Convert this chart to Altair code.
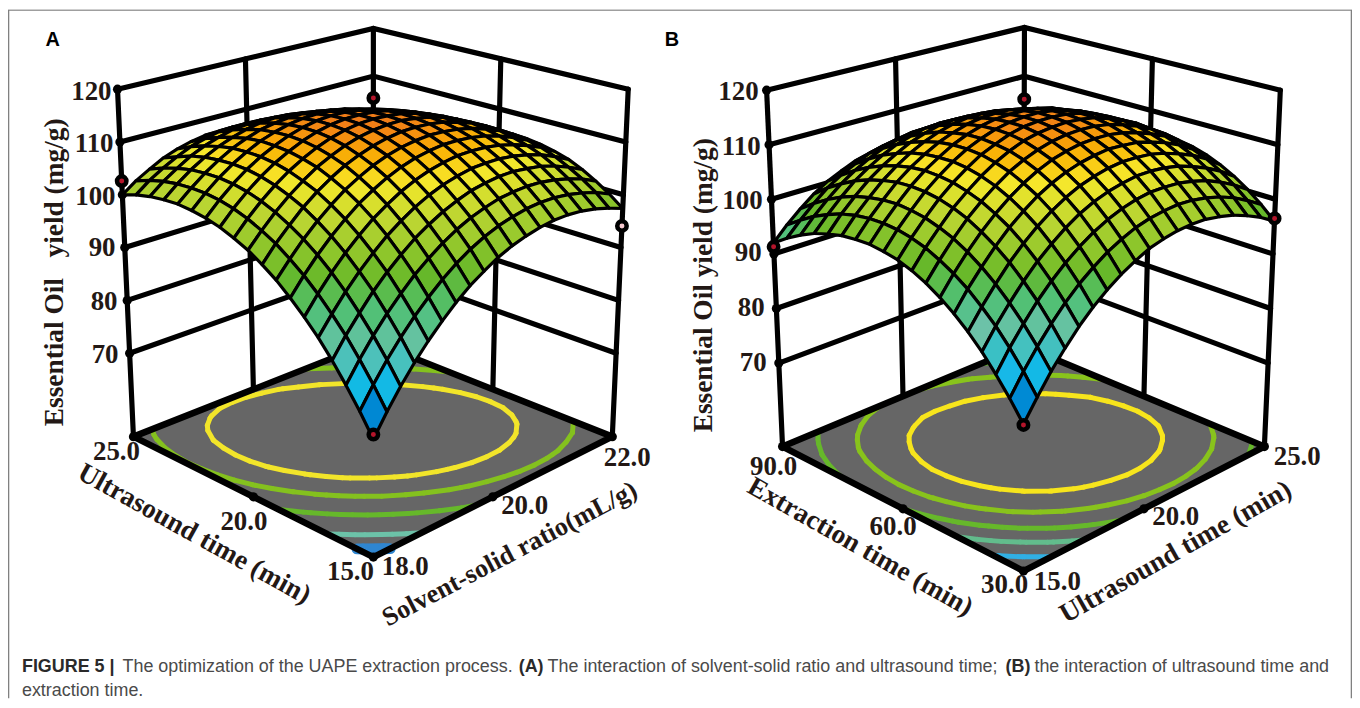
import altair as alt

# Response surface heights; rows run along the left floor axis,
# columns along the right floor axis, front corner first.
yield_a = [
 [74.6,78.3,81.7,84.8,87.6,90.1,92.4,94.4,96.0,97.5,98.6,99.4,100.0,100.3,100.3,100.0,99.4,98.5,97.4],
 [78.4,82.0,85.3,88.3,91.0,93.4,95.6,97.5,99.1,100.4,101.4,102.1,102.6,102.8,102.7,102.3,101.6,100.7,99.4],
 [81.9,85.4,88.6,91.5,94.1,96.5,98.5,100.3,101.8,103.0,103.9,104.6,104.9,105.0,104.8,104.3,103.5,102.5,101.1],
 [85.2,88.6,91.6,94.5,97.0,99.2,101.2,102.8,104.2,105.3,106.2,106.7,107.0,107.0,106.6,106.1,105.2,104.0,102.6],
 [88.2,91.4,94.4,97.1,99.5,101.7,103.5,105.1,106.4,107.4,108.1,108.6,108.7,108.6,108.2,107.5,106.6,105.3,103.8],
 [90.8,94.0,96.9,99.5,101.8,103.9,105.6,107.1,108.3,109.2,109.8,110.2,110.2,110.0,109.5,108.7,107.6,106.3,104.6],
 [93.2,96.3,99.1,101.6,103.8,105.8,107.4,108.8,109.9,110.7,111.2,111.5,111.4,111.1,110.5,109.6,108.4,107.0,105.2],
 [95.4,98.3,101.0,103.4,105.5,107.4,108.9,110.2,111.2,111.9,112.3,112.5,112.3,111.9,111.2,110.2,109.0,107.4,105.6],
 [97.2,100.1,102.6,105.0,107.0,108.7,110.2,111.3,112.2,112.8,113.2,113.2,113.0,112.5,111.6,110.6,109.2,107.5,105.6],
 [98.8,101.5,104.0,106.2,108.1,109.8,111.1,112.2,113.0,113.5,113.7,113.7,113.3,112.7,111.8,110.6,109.1,107.4,105.4],
 [100.0,102.7,105.1,107.2,109.0,110.5,111.8,112.8,113.5,113.9,114.0,113.8,113.4,112.7,111.7,110.4,108.8,107.0,104.8],
 [101.0,103.6,105.9,107.9,109.6,111.0,112.2,113.1,113.7,114.0,114.0,113.7,113.2,112.4,111.3,109.9,108.2,106.3,104.0],
 [101.7,104.2,106.4,108.3,109.9,111.2,112.3,113.1,113.6,113.8,113.7,113.3,112.7,111.8,110.6,109.1,107.3,105.3,102.9],
 [102.1,104.5,106.6,108.4,109.9,111.2,112.1,112.8,113.2,113.3,113.1,112.7,111.9,110.9,109.6,108.0,106.1,104.0,101.5],
 [102.3,104.5,106.5,108.2,109.7,110.8,111.7,112.2,112.5,112.5,112.2,111.7,110.9,109.7,108.3,106.6,104.7,102.4,99.9],
 [102.1,104.3,106.2,107.8,109.1,110.1,110.9,111.4,111.6,111.5,111.1,110.4,109.5,108.3,106.8,105.0,102.9,100.6,97.9],
 [101.7,103.8,105.5,107.1,108.3,109.2,109.9,110.2,110.3,110.1,109.7,108.9,107.9,106.6,104.9,103.1,100.9,98.4,95.7],
 [101.0,103.0,104.6,106.0,107.2,108.0,108.6,108.8,108.8,108.5,108.0,107.1,106.0,104.5,102.8,100.8,98.6,96.0,93.2],
 [100.0,101.9,103.4,104.8,105.8,106.5,107.0,107.1,107.0,106.6,106.0,105.0,103.8,102.3,100.4,98.4,96.0,93.3,90.4],
]
yield_b = [
 [79.0,82.5,85.8,88.7,91.4,93.7,95.7,97.4,98.8,100.0,100.7,101.2,101.4,101.3,100.8,100.1,99.0,97.7,96.0],
 [82.3,85.8,89.0,91.9,94.5,96.8,98.7,100.4,101.7,102.8,103.5,103.9,104.1,103.9,103.4,102.6,101.5,100.0,98.3],
 [85.3,88.8,91.9,94.8,97.3,99.5,101.4,103.0,104.3,105.3,106.0,106.4,106.4,106.2,105.6,104.8,103.6,102.1,100.3],
 [88.1,91.5,94.5,97.3,99.8,101.9,103.8,105.4,106.6,107.5,108.1,108.5,108.5,108.2,107.6,106.6,105.4,103.9,102.0],
 [90.5,93.8,96.8,99.6,102.0,104.1,105.9,107.4,108.6,109.4,110.0,110.3,110.2,109.9,109.2,108.2,107.0,105.4,103.4],
 [92.6,95.9,98.8,101.5,103.9,105.9,107.7,109.1,110.2,111.0,111.5,111.8,111.6,111.3,110.5,109.5,108.2,106.5,104.5],
 [94.4,97.6,100.5,103.1,105.4,107.4,109.1,110.5,111.6,112.3,112.8,112.9,112.8,112.3,111.5,110.4,109.1,107.3,105.3],
 [95.9,99.0,101.9,104.5,106.7,108.6,110.3,111.6,112.6,113.3,113.7,113.8,113.6,113.1,112.2,111.1,109.7,107.9,105.8],
 [97.1,100.2,102.9,105.5,107.6,109.5,111.1,112.4,113.4,114.0,114.3,114.4,114.1,113.6,112.6,111.4,110.0,108.1,106.0],
 [98.0,101.0,103.7,106.2,108.3,110.1,111.7,112.8,113.8,114.4,114.6,114.6,114.3,113.7,112.7,111.4,109.9,108.0,105.8],
 [98.5,101.5,104.1,106.6,108.6,110.4,111.9,113.0,113.9,114.4,114.6,114.6,114.2,113.5,112.5,111.2,109.6,107.6,105.4],
 [98.8,101.7,104.3,106.7,108.7,110.3,111.8,112.9,113.7,114.2,114.3,114.2,113.8,113.1,112.0,110.6,109.0,106.9,104.6],
 [98.7,101.6,104.1,106.5,108.4,110.0,111.4,112.4,113.2,113.6,113.7,113.6,113.0,112.3,111.1,109.7,108.0,105.9,103.5],
 [98.4,101.2,103.6,105.9,107.8,109.4,110.7,111.7,112.4,112.8,112.8,112.6,112.0,111.2,110.0,108.5,106.8,104.6,102.2],
 [97.7,100.5,102.9,105.1,106.9,108.4,109.7,110.6,111.3,111.6,111.5,111.3,110.7,109.8,108.5,107.0,105.2,103.0,100.5],
 [96.8,99.4,101.8,104.0,105.7,107.2,108.4,109.2,109.9,110.1,110.0,109.7,109.0,108.1,106.8,105.1,103.3,101.1,98.5],
 [95.5,98.1,100.4,102.5,104.2,105.6,106.8,107.6,108.2,108.3,108.1,107.8,107.0,106.1,104.7,103.0,101.2,98.8,96.2],
 [93.9,96.4,98.7,100.8,102.4,103.7,104.9,105.6,106.1,106.2,106.0,105.6,104.8,103.8,102.3,100.6,98.7,96.3,93.6],
 [92.0,94.5,96.7,98.7,100.3,101.5,102.6,103.3,103.8,103.8,103.5,103.1,102.2,101.2,99.7,97.8,95.9,93.4,90.7],
]
z_ticks = [70, 80, 90, 100, 110, 120]
# design points: left-axis fraction, right-axis fraction, height, centre colour
points_a = [(1, 0, 102.6, "#b5152b"), (0, 1, 94.1, "#f6c9cf"), (1, 1, 105.4, "#b5152b"), (0, 0, 75.4, "#b5152b")]
points_b = [(1, 0, 91.3, "#b5152b"), (0, 1, 96.5, "#b5152b"), (1, 1, 105.3, "#b5152b"), (0, 0, 78.9, "#b5152b")]
colour_range = ["#2050a8", "#22b6ee", "#6cc2a8", "#66b82a", "#b8d432", "#f6e82c", "#f07a18"]
colour_domain_a = [75, 81, 87, 96, 103, 108, 114]
colour_domain_b = [79, 85, 91, 98, 104, 109, 115]
contours_a = [(107.8, "#f2e52a", 5), (102.5, "#84c11e", 5), (95.6, "#66b82a", 5), (86.6, "#6cc2a8", 5), (79.2, "#2f86d0", 11)]
contours_b = [(109, "#f7e51c", 5), (103.5, "#88c31c", 5), (98, "#66b82a", 5), (92.5, "#62bc8c", 5), (86, "#30b0e4", 5)]

# Picture geometry of the two 3-D boxes (front, left, right, back corners).
box_a = dict(floor=[(375, 558), (134, 437), (615, 437), (375, 342)],
             top=[(375, 176), (118, 88), (631, 88), (375, 27)], z0=54.2)
box_b = dict(floor=[(1028, 572), (786, 447), (1270, 447), (1028, 346)],
             top=[(1028, 176), (770, 89), (1286, 89), (1029, 26)], z0=54.7)
OFF = 8


def project(box, u, v, z):
    def bil(q):
        f, l, r, b = q
        return [
            f[k] * (1 - u) * (1 - v) + l[k] * u * (1 - v) + r[k] * (1 - u) * v + b[k] * u * v
            for k in (0, 1)
        ]
    lo, hi = bil(box["floor"]), bil(box["top"])
    w = (z - box["z0"]) / (120 - box["z0"])
    return [lo[0] + (hi[0] - lo[0]) * w - OFF, lo[1] + (hi[1] - lo[1]) * w - OFF]


def line(pts, **props):
    return {"type": "Feature", "properties": props, "geometry": {"type": "LineString", "coordinates": pts}}


def poly(pts, **props):
    return {"type": "Feature", "properties": props,
            "geometry": {"type": "Polygon", "coordinates": [pts + [pts[0]]]}}


PROJ = dict(type="identity", scale=1, translate=[0, 0])


def geo(features, **mark):
    return alt.Chart(alt.Data(values=features)).mark_geoshape(**mark).project(**PROJ)


def frame_lines(box):
    z0 = box["z0"]
    fs = []
    for z in z_ticks:
        fs.append(line([project(box, 1, 0, z), project(box, 1, 1, z), project(box, 0, 1, z)]))
    for u, v in [(1, 0), (1, .5), (1, 1), (.5, 1), (0, 1)]:
        fs.append(line([project(box, u, v, z0), project(box, u, v, 120)]))
    return fs


def floor_edges(box):
    z = box["z0"]
    return [line([project(box, 1, 1, z), project(box, 1, 0, z), project(box, 0, 0, z),
                  project(box, 0, 1, z), project(box, 1, 1, z)])]


def contour_segments(box, table, level, colour):
    n = len(table) - 1
    fs = []
    for i in range(n):
        for j in range(n):
            corners = [(i, j), (i + 1, j), (i + 1, j + 1), (i, j + 1)]
            cross = []
            for k in range(4):
                a, b = corners[k], corners[(k + 1) % 4]
                za, zb = table[a[0]][a[1]], table[b[0]][b[1]]
                if (za >= level) != (zb >= level):
                    f = (level - za) / (zb - za)
                    cross.append(((a[0] + (b[0] - a[0]) * f) / n, (a[1] + (b[1] - a[1]) * f) / n))
            if len(cross) >= 2:
                fs.append(line([project(box, *cross[0], box["z0"]), project(box, *cross[1], box["z0"])],
                               colour=colour))
    return fs


def surface_cells(box, table):
    n = len(table) - 1
    cells = []
    for i in range(n):
        for j in range(n):
            q = [(i, j), (i + 1, j), (i + 1, j + 1), (i, j + 1)]
            z = sum(table[a][b] for a, b in q) / 4
            pts = [project(box, a / n, b / n, table[a][b]) for a, b in q]
            cells.append((i + j, poly(pts, z=z)))
    cells.sort(key=lambda c: -c[0])
    return [c[1] for c in cells]


def tick_dots(box):
    rows = []
    for z in z_ticks:
        x, y = project(box, 1, 0, z)
        rows.append(dict(x=x, y=y))
    for u, v in [(1, 0), (0, 0), (0, 1), (.5, 0), (0, .5)]:
        x, y = project(box, u, v, box["z0"])
        rows.append(dict(x=x, y=y))
    return rows


def panel_layers(box, table, domain, contours, points):
    z0 = box["z0"]
    layers = [
        geo(frame_lines(box), filled=False, stroke="black", strokeWidth=5.2, strokeCap="round"),
        geo([poly([project(box, 0, 0, z0), project(box, 1, 0, z0), project(box, 1, 1, z0), project(box, 0, 1, z0)])],
            fill="#666666", stroke=None),
    ]
    for level, colour, width in contours:
        layers.append(geo(contour_segments(box, table, level, colour), filled=False, stroke=colour,
                          strokeWidth=width, strokeCap="round"))
    layers.append(geo(floor_edges(box), filled=False, stroke="black", strokeWidth=6.5, strokeJoin="round"))
    layers.append(alt.Chart(alt.Data(values=tick_dots(box))).mark_circle(color="black", size=85, opacity=1)
                  .encode(longitude="x:Q", latitude="y:Q").project(**PROJ))
    layers.append(
        geo(surface_cells(box, table), stroke="black", strokeWidth=3.2, strokeJoin="round").encode(
            fill=alt.Fill("properties.z:Q", scale=alt.Scale(domain=domain, range=colour_range), legend=None)
        )
    )
    rows = []
    for u, v, z, c in points:
        x, y = project(box, u, v, z)
        rows.append(dict(x=x, y=y, c=c))
    layers.append(alt.Chart(alt.Data(values=rows)).mark_point(filled=True, stroke="black", strokeWidth=4.5, size=90, opacity=1)
                  .encode(longitude="x:Q", latitude="y:Q", fill=alt.Fill("c:N", scale=None)).project(**PROJ))
    return layers


def labels(rows, font, weight, size, colour, align="center"):
    data = [dict(x=r[0] - OFF, y=r[1] - OFF, t=r[2], a=r[3] % 360) for r in rows]
    return (alt.Chart(alt.Data(values=data))
            .mark_text(font=font, fontWeight=weight, fontSize=size, color=colour, align=align, baseline="middle")
            .encode(longitude="x:Q", latitude="y:Q", text="t:N", angle=alt.Angle("a:Q", scale=None))
            .project(**PROJ))


SERIF = "Liberation Serif"
SANS = "Liberation Sans"
INK = "#231815"
tick_labels = [
    (112, 91, "120", 0), (114, 143, "110", 0), (116, 196, "100", 0), (116, 248, "90", 0), (118, 302, "80", 0), (119, 355, "70", 0),
    (762, 91, "120", 0), (764, 146, "110", 0), (766, 200, "100", 0), (765, 253, "90", 0), (768, 308, "80", 0), (770, 363, "70", 0),
]
floor_labels = [
    (117, 452, "25.0", 0), (245, 523, "20.0", 0), (352, 573, "15.0", 0), (407, 568, "18.0", 0), (527, 507, "20.0", 0), (630, 458, "22.0", 0),
    (777, 468, "90.0", 0), (897, 528, "60.0", 0), (1009, 586, "30.0", 0), (1062, 583, "15.0", 0), (1181, 518, "20.0", 0), (1303, 457, "25.0", 0),
]
axis_labels_large = [
    (195, 535, "Ultrasound time (min)", 29),
    (55, 272, "Essential Oil\u00a0\u00a0\u00a0yield (mg/g)", -90),
    (864, 548, "Extraction time (min)", 29.5), (1181, 553, "Ultrasound time (min)", -29.5),
    (707, 285, "Essential Oil yield (mg/g)", -90),
]
axis_labels_small = [(512, 555, "Solvent-solid ratio(mL/g)", -27.6)]
panel_tags = [(53, 39, "A", 0), (675, 39, "B", 0)]
caption_bold = [(22, 668, "FIGURE 5 |", 0), (521, 668, "(A)", 0), (1010, 668, "(B)", 0)]
caption_regular = [
    (123, 668, "The optimization of the UAPE extraction process.", 0),
    (550, 668, "The interaction of solvent-solid ratio and ultrasound time;", 0),
    (1039, 668, "the interaction of ultrasound time and", 0),
    (22, 693, "extraction time.", 0),
]

border = geo([line([[0.5, 692], [0.5, 0.5], [1349.5, 0.5], [1349.5, 692]])], filled=False, stroke="#808080", strokeWidth=1.6)

layers = [border]
layers += panel_layers(box_a, yield_a, colour_domain_a, contours_a, points_a)
layers += panel_layers(box_b, yield_b, colour_domain_b, contours_b, points_b)
layers += [
    labels(tick_labels, SERIF, "bold", 27, INK, "right"),
    labels(floor_labels, SERIF, "bold", 27, INK),
    labels(axis_labels_large, SERIF, "bold", 27.5, INK),
    labels(axis_labels_small, SERIF, "bold", 26.5, INK),
    labels(panel_tags, SANS, "bold", 20, "black"),
    labels(caption_bold, SANS, "bold", 18, "#2a2a2a", "left"),
    labels(caption_regular, SANS, "normal", 18, "#4a4a4a", "left"),
]

chart = (
    alt.layer(*layers)
    .resolve_scale(fill="independent")
    .properties(width=1350, height=692, padding=0, background="white", autosize=alt.AutoSizeParams(type="none"))
    .configure_view(stroke=None)
)
chart.save("out.html", embed_options={"renderer": "svg", "actions": False})
